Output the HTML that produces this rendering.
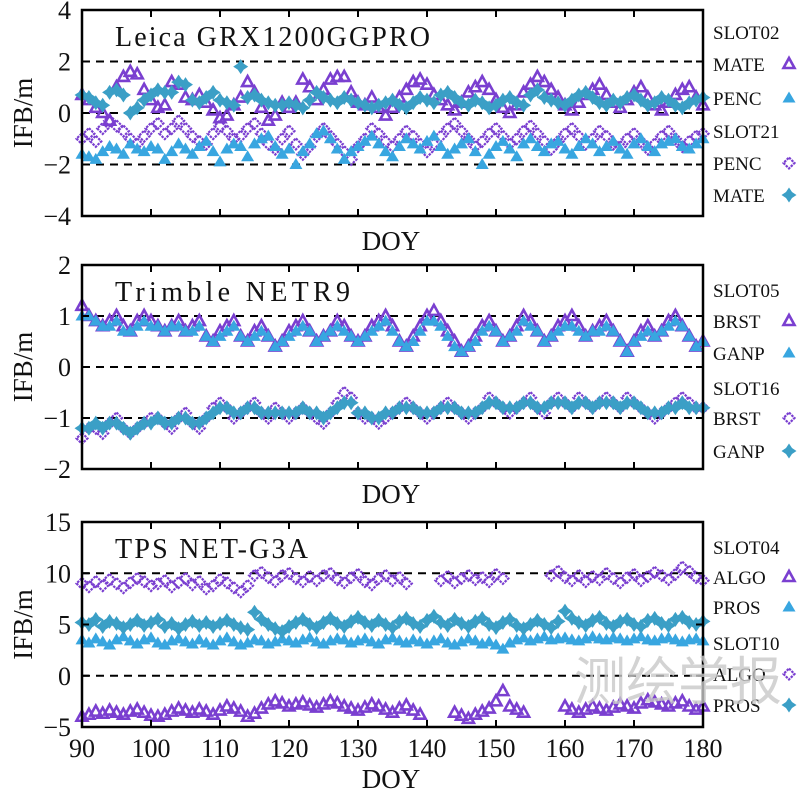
<!DOCTYPE html>
<html><head><meta charset="utf-8">
<style>
body{margin:0;background:#fff}
svg{display:block;font-family:"Liberation Serif",serif}
</style></head>
<body>
<svg id="c" width="800" height="794" viewBox="0 0 800 794" xmlns="http://www.w3.org/2000/svg"></svg>
<script>
const days0 = 90;
const xTicks = [90,100,110,120,130,140,150,160,170,180];
// Panel 1: Leica
const p1Mate02 = [0.7,0.5,0.2,0.0,-0.3,1.0,1.4,1.6,1.5,0.9,0.5,0.2,0.3,1.2,1.1,0.6,0.5,0.7,0.4,0.1,-0.2,-0.1,0.3,0.6,1.2,0.8,0.2,-0.3,-0.1,0.4,0.2,0.4,1.3,1.0,0.5,0.9,1.3,1.4,1.4,0.8,0.4,0.3,0.6,0.2,-0.1,0.2,0.6,0.9,1.2,1.3,1.1,0.7,0.5,0.3,0.1,0.4,0.8,1.0,1.2,0.9,0.5,0.2,0.0,0.3,0.8,1.1,1.4,1.2,0.9,0.6,0.3,0.1,0.4,0.7,0.9,1.1,0.7,0.4,0.2,0.5,0.8,1.0,0.6,0.3,0.1,0.4,0.7,0.9,1.0,0.6,0.3];
const p1Penc02 = [-1.6,-1.7,-1.8,-1.5,-1.3,-1.4,-1.6,-1.2,-1.4,-1.5,-1.3,-1.4,-1.8,-1.5,-1.2,-1.4,-1.6,-1.3,-1.1,-1.5,-1.9,-1.4,-1.2,-1.3,-1.7,-1.2,-1.0,-0.9,-1.3,-1.6,-1.4,-2.0,-1.5,-1.2,-0.8,-0.7,-1.0,-1.4,-1.8,-1.5,-1.3,-1.1,-0.9,-1.2,-1.5,-1.7,-1.3,-1.0,-1.2,-1.4,-1.1,-0.9,-1.3,-1.6,-1.4,-1.2,-1.0,-1.5,-2.0,-1.6,-1.3,-1.1,-1.4,-1.7,-1.2,-1.0,-1.3,-1.5,-1.2,-1.1,-1.4,-1.6,-1.3,-1.0,-1.2,-1.5,-1.3,-1.1,-1.4,-1.6,-1.2,-1.0,-1.3,-1.5,-1.2,-1.1,-1.0,-1.3,-1.4,-1.2,-1.0];
const p1Penc21 = [-1.0,-0.8,-1.1,-0.6,-0.3,-0.5,-0.7,-1.0,-1.2,-0.9,-0.6,-0.4,-0.8,-0.6,-0.3,-0.6,-0.9,-1.1,-1.2,-0.8,-0.5,-0.7,-1.0,-0.9,-0.6,-0.4,-0.8,-1.2,-1.4,-1.0,-0.7,-1.2,-1.6,-1.3,-0.9,-0.6,-0.9,-1.2,-1.5,-1.8,-1.3,-1.0,-0.6,-0.8,-1.1,-1.3,-1.0,-0.7,-0.9,-1.2,-1.5,-1.2,-0.9,-0.6,-0.4,-0.7,-1.0,-1.3,-1.1,-0.8,-0.6,-0.9,-1.2,-1.0,-0.7,-0.5,-0.8,-1.1,-1.4,-1.1,-0.8,-0.6,-0.9,-1.2,-1.0,-0.7,-0.9,-1.2,-1.3,-1.0,-0.8,-1.1,-1.4,-1.2,-0.9,-0.7,-1.0,-1.3,-1.1,-0.9,-0.8];
const p1Mate21 = [0.7,0.6,0.4,0.3,0.8,0.9,0.7,0.0,0.2,0.5,0.7,0.9,0.8,0.8,1.2,1.1,0.5,0.4,0.6,0.8,0.5,0.4,0.3,1.8,0.6,0.7,0.5,0.4,0.3,0.3,0.4,0.3,0.2,0.5,0.8,0.6,0.5,0.4,0.6,0.5,0.4,0.3,0.2,0.3,0.4,0.5,0.3,0.2,0.4,0.6,0.5,0.4,0.7,0.8,0.6,0.4,0.3,0.5,0.4,0.2,0.3,0.5,0.6,0.4,0.3,0.7,0.9,0.6,0.5,0.4,0.3,0.5,0.7,0.8,0.6,0.4,0.3,0.5,0.4,0.6,0.7,0.5,0.3,0.4,0.6,0.5,0.3,0.2,0.4,0.5,0.6];
// Panel 2: Trimble
const p2Brst05 = [1.2,1.0,0.9,0.8,0.9,1.0,0.8,0.7,0.9,1.0,0.9,0.8,0.7,0.8,0.9,0.7,0.8,0.9,0.6,0.5,0.7,0.8,0.9,0.6,0.5,0.7,0.8,0.6,0.4,0.5,0.7,0.8,0.9,0.7,0.5,0.6,0.7,0.9,0.8,0.6,0.5,0.6,0.8,0.9,1.0,0.8,0.5,0.4,0.6,0.8,1.0,1.1,0.9,0.7,0.5,0.3,0.4,0.6,0.8,0.9,0.7,0.5,0.6,0.8,1.0,0.9,0.7,0.5,0.6,0.8,0.9,1.0,0.8,0.6,0.7,0.8,0.9,0.7,0.5,0.3,0.5,0.7,0.8,0.6,0.7,0.9,1.0,0.8,0.6,0.4,0.5];
const p2Ganp05 = [1.0,1.0,0.9,0.8,0.8,0.9,0.7,0.7,0.8,0.9,0.8,0.8,0.7,0.8,0.8,0.7,0.7,0.8,0.6,0.5,0.6,0.7,0.8,0.6,0.5,0.6,0.7,0.6,0.4,0.5,0.6,0.7,0.8,0.7,0.5,0.6,0.7,0.8,0.7,0.6,0.5,0.6,0.7,0.8,0.9,0.7,0.5,0.4,0.5,0.7,0.9,0.9,0.8,0.6,0.4,0.3,0.4,0.5,0.7,0.8,0.7,0.5,0.6,0.7,0.9,0.8,0.7,0.5,0.6,0.7,0.8,0.8,0.7,0.6,0.7,0.7,0.8,0.7,0.5,0.3,0.5,0.6,0.7,0.6,0.7,0.8,0.9,0.8,0.6,0.4,0.5];
const p2Brst16 = [-1.4,-1.2,-1.2,-1.3,-1.1,-1.0,-1.2,-1.3,-1.2,-1.1,-1.0,-1.0,-1.1,-1.2,-1.0,-0.9,-1.1,-1.2,-1.0,-0.8,-0.7,-0.8,-1.0,-0.9,-0.8,-0.7,-0.9,-1.0,-0.8,-0.9,-1.0,-0.9,-0.8,-0.9,-1.0,-1.1,-0.9,-0.7,-0.5,-0.6,-0.9,-1.0,-1.0,-1.1,-1.0,-0.9,-0.8,-0.7,-0.8,-0.9,-1.0,-0.9,-0.8,-0.7,-0.8,-0.9,-1.0,-0.9,-0.8,-0.6,-0.7,-0.8,-0.9,-0.8,-0.7,-0.6,-0.8,-0.9,-0.7,-0.6,-0.7,-0.8,-0.6,-0.7,-0.8,-0.7,-0.6,-0.7,-0.8,-0.6,-0.7,-0.8,-0.9,-1.0,-0.9,-0.8,-0.7,-0.6,-0.7,-0.8,-0.8];
const p2Ganp16 = [-1.2,-1.2,-1.1,-1.2,-1.1,-1.1,-1.2,-1.3,-1.2,-1.1,-1.1,-1.0,-1.1,-1.1,-1.0,-1.0,-1.1,-1.1,-1.0,-0.9,-0.8,-0.8,-0.9,-0.9,-0.8,-0.8,-0.9,-0.9,-0.9,-0.9,-0.9,-0.9,-0.8,-0.9,-0.9,-1.0,-0.9,-0.8,-0.7,-0.7,-0.9,-0.9,-1.0,-1.0,-0.9,-0.9,-0.8,-0.8,-0.8,-0.9,-0.9,-0.9,-0.8,-0.8,-0.8,-0.9,-0.9,-0.9,-0.8,-0.7,-0.7,-0.8,-0.8,-0.8,-0.7,-0.7,-0.8,-0.8,-0.7,-0.7,-0.7,-0.8,-0.7,-0.7,-0.8,-0.7,-0.7,-0.7,-0.8,-0.7,-0.7,-0.8,-0.9,-0.9,-0.9,-0.8,-0.8,-0.7,-0.8,-0.8,-0.8];
// Panel 3: TPS
const p3Algo04 = [-4.0,-3.8,-3.5,-3.7,-3.4,-3.6,-3.8,-3.5,-3.3,-3.6,-3.9,-4.0,-3.8,-3.5,-3.2,-3.4,-3.6,-3.3,-3.5,-3.8,-3.4,-3.0,-3.2,-3.5,-4.0,-3.7,-3.2,-2.8,-2.5,-2.7,-3.0,-2.8,-2.6,-2.9,-3.1,-2.8,-2.5,-2.7,-3.0,-3.2,-3.4,-3.1,-2.8,-3.0,-3.3,-3.6,-3.2,-2.9,-3.4,-3.8,null,null,null,null,-3.6,-3.9,-4.2,-3.8,-3.5,-3.2,-2.5,-1.5,-3.0,-3.3,-3.6,null,null,null,null,null,-3.0,-3.3,-3.6,-3.3,-3.0,-3.2,-3.4,-3.1,-2.8,-3.0,-3.2,-2.7,-2.4,-2.6,-2.8,-3.0,-2.7,-2.5,-3.0,-3.3,-3.0];
const p3Pros04 = [3.5,3.2,3.6,3.3,3.0,3.5,3.8,3.4,3.1,3.5,3.7,3.2,3.0,3.4,3.6,3.3,3.1,3.5,3.2,3.0,3.4,3.7,3.3,3.0,3.2,3.5,3.4,3.1,3.3,3.6,3.4,3.2,3.5,3.7,3.3,3.1,3.4,3.6,3.5,3.2,3.4,3.6,3.3,3.1,3.5,3.7,3.4,3.2,3.5,3.3,3.1,3.4,3.6,3.2,3.0,3.3,3.6,3.4,3.1,3.3,3.0,2.6,3.2,3.5,3.7,3.4,3.6,3.8,3.5,3.6,3.7,3.5,3.4,3.6,3.8,3.6,3.5,3.7,3.6,3.4,3.6,3.8,3.5,3.4,3.6,3.7,3.5,3.3,3.5,3.6,3.4];
const p3Algo10 = [9.0,8.7,9.2,8.8,9.4,9.0,8.6,9.1,9.5,9.2,8.8,9.0,9.3,8.7,9.1,9.5,8.9,9.2,8.5,8.8,9.4,9.1,8.6,8.2,8.8,9.8,10.1,9.6,9.2,9.8,10.0,9.5,9.2,9.7,9.3,9.8,10.0,9.4,9.1,9.6,9.9,9.2,8.9,9.5,9.8,9.3,9.6,9.0,null,null,null,null,9.3,9.7,9.1,9.5,9.8,9.4,9.6,9.2,9.9,9.5,null,null,null,null,null,null,9.8,10.2,9.6,9.3,9.8,9.2,9.7,9.4,10.0,9.5,9.1,9.6,9.9,9.3,9.7,10.1,9.8,9.4,9.9,10.6,10.2,9.6,9.3];
const p3Pros10 = [5.2,5.0,5.5,4.8,5.3,5.1,4.7,5.0,5.4,4.9,5.2,5.5,4.8,5.1,4.6,5.0,5.3,4.9,5.2,4.8,5.1,5.4,5.0,4.7,4.5,6.2,5.5,5.0,4.6,4.3,4.8,5.2,5.5,5.0,4.7,5.2,5.6,5.1,4.8,5.3,5.7,5.2,4.9,5.4,5.0,4.7,5.3,5.6,5.1,4.8,5.4,5.8,5.2,4.9,5.5,5.1,4.8,5.3,5.6,5.0,4.7,5.2,5.5,4.9,4.6,5.0,5.4,5.0,4.7,5.3,6.3,5.6,5.2,4.9,5.4,5.7,5.1,4.8,5.3,5.5,5.0,4.8,5.4,5.6,5.1,4.9,5.5,5.7,5.2,5.0,5.3];

const yTicks1 = [4,2,0,-2,-4];
const yTicks2 = [2,1,0,-1,-2];
const yTicks3 = [15,10,5,0,-5];

const NS = "http://www.w3.org/2000/svg";
const svg = document.getElementById('c');
const PURPLE = "#7a3fd0", BLUE = "#38a6e0", TEAL = "#3b9fc6";
const X0 = 82, X1 = 703;
const xs = d => X0 + (d - 90) / 90 * (X1 - X0);

function el(tag, attrs, parent) {
  const e = document.createElementNS(NS, tag);
  for (const k in attrs) e.setAttribute(k, attrs[k]);
  (parent || svg).appendChild(e);
  return e;
}
function txt(s, x, y, size, anchor, parent) {
  const t = el('text', {x: x, y: y, 'font-size': size, 'text-anchor': anchor || 'start', fill: '#111'}, parent);
  t.textContent = s;
  return t;
}
function marker(type, x, y, g) {
  let m;
  if (type === 'otri') m = el('path', {d: `M${x-5.5},${y+4}h11l-5.5,-10z`, fill: 'none', stroke: PURPLE, 'stroke-width': 2.6}, g);
  else if (type === 'ftri') m = el('path', {d: `M${x-6.5},${y+4.5}h13l-6.5,-11z`, fill: BLUE}, g);
  else if (type === 'odia') m = el('path', {d: `M${x},${y-5.5}l5.5,5.5l-5.5,5.5l-5.5,-5.5z`, fill: 'none', stroke: PURPLE, 'stroke-width': 2.2, 'stroke-dasharray': '2.5,1'}, g);
  else m = el('path', {d: `M${x},${y-7.5}l3,4.5l4.5,3l-4.5,3l-3,4.5l-3,-4.5l-4.5,-3l4.5,-3z`, fill: TEAL}, g);
  return m;
}

const panels = [
  {name: 'leica', title: 'Leica GRX1200GGPRO', tw: 315, top: 10, bot: 216, ymax: 4, ymin: -4, ticks: yTicks1, dashed: [2,0,-2],
   series: [[p1Mate02,'otri'],[p1Penc21,'odia'],[p1Penc02,'ftri'],[p1Mate21,'star']],
   legend: [['SLOT02',null,32],['MATE','otri',64],['PENC','ftri',98],['SLOT21',null,131],['PENC','odia',163],['MATE','star',195]], doy: 250, xlabels: false},
  {name: 'trimble', title: 'Trimble NETR9', tw: 235, top: 265, bot: 469, ymax: 2, ymin: -2, ticks: yTicks2, dashed: [1,0,-1],
   series: [[p2Brst05,'otri'],[p2Brst16,'odia'],[p2Ganp05,'ftri'],[p2Ganp16,'star']],
   legend: [['SLOT05',null,290],['BRST','otri',321],['GANP','ftri',353],['SLOT16',null,388],['BRST','odia',418],['GANP','star',451]], doy: 503, xlabels: false},
  {name: 'tps', title: 'TPS NET-G3A', tw: 193, top: 522, bot: 727, ymax: 15, ymin: -5, ticks: yTicks3, dashed: [10,0],
   series: [[p3Algo04,'otri'],[p3Algo10,'odia'],[p3Pros04,'ftri'],[p3Pros10,'star']],
   legend: [['SLOT04',null,547],['ALGO','otri',577],['PROS','ftri',607],['SLOT10',null,643],['ALGO','odia',674],['PROS','star',705]], doy: 788, xlabels: true}
];

panels.forEach(p => {
  const g = el('g', {});
  
  
  const ys = v => p.top + (p.ymax - v) / (p.ymax - p.ymin) * (p.bot - p.top);
  p.dashed.forEach(v => {
    const l = el('line', {x1: X0, x2: X1, y1: ys(v), y2: ys(v), stroke: '#000', 'stroke-width': 2, 'stroke-dasharray': '8,6'}, g);
    
    
  });
  p.series.forEach(([arr, type]) => {
    const sg = el('g', {}, g);
    
    
    arr.forEach((v, i) => {
      const d = days0 + i;
      if (v === null || d > 180) return;
      const m = marker(type, xs(d), ys(v), sg);
      
      
    });
  });
  const frame = el('rect', {x: X0, y: p.top, width: X1 - X0, height: p.bot - p.top, fill: 'none', stroke: '#000', 'stroke-width': 2.5}, g);
  
  
  xTicks.forEach(d => {
    el('line', {x1: xs(d), x2: xs(d), y1: p.bot, y2: p.bot - 7, stroke: '#000', 'stroke-width': 2}, g);
    el('line', {x1: xs(d), x2: xs(d), y1: p.top, y2: p.top + 7, stroke: '#000', 'stroke-width': 2}, g);
    if (p.xlabels) {
      const t = txt(String(d), xs(d), p.bot + 30, 26, 'middle', g);
      
      
    }
  });
  p.ticks.forEach(v => {
    el('line', {x1: X0, x2: X0 + 7, y1: ys(v), y2: ys(v), stroke: '#000', 'stroke-width': 2}, g);
    el('line', {x1: X1, x2: X1 - 7, y1: ys(v), y2: ys(v), stroke: '#000', 'stroke-width': 2}, g);
    const t = txt(v < 0 ? '\u2212' + (-v) : String(v), 71, ys(v) + 9, 26, 'end', g);
    
    
  });
  const tt = txt(p.title, 115, p.top + 36, 28, 'start', g);
  tt.setAttribute('textLength', p.tw);
  
  
  const yt = txt('IFB/m', 0, 0, 27, 'middle', g);
  yt.setAttribute('transform', `translate(32,${(p.top + p.bot) / 2}) rotate(-90)`);
  
  
  const xt = txt('DOY', 391, p.doy, 27, 'middle', g);
  
  
  p.legend.forEach(([label, type, y]) => {
    const t = txt(label, 713, y + 7, 19, 'start', g);
    
    
    if (type) {
      const m = marker(type, 789, y, g);
      
      
    }
  });
});
const wm = el('text', {x: 678, y: 700, 'font-size': 52, 'text-anchor': 'middle', fill: '#c8c8c8', 'fill-opacity': 0.8, 'font-family': '"Noto Sans CJK SC", sans-serif'});
wm.textContent = '测绘学报';


</script>
</body></html>
